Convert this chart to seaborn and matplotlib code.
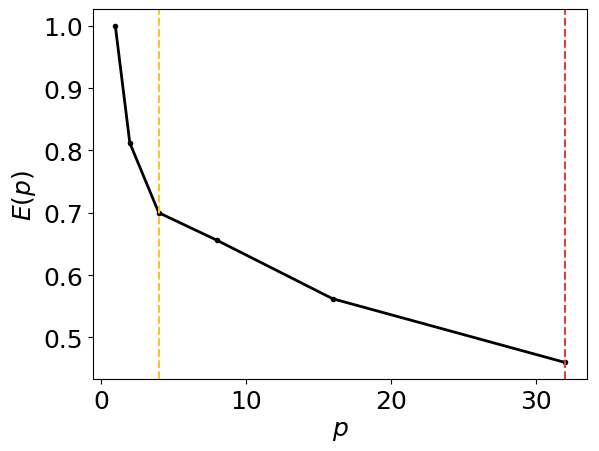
import matplotlib
matplotlib.use('Agg')
import matplotlib.pyplot as plt
import seaborn as sns
import pandas as pd

# === Data ===
p_values = [1, 2, 4, 8, 16, 32]
efficiency = [1.0, 0.812, 0.700, 0.656, 0.562, 0.460]
vlines_p = [4, 32]
vlines_colors = ['#FFC125', '#D9413E']

df = pd.DataFrame({'p': p_values, 'E': efficiency})

plt.rcParams['font.size'] = 18
fig, ax = plt.subplots(figsize=(5.99, 4.52), dpi=100)

sns.lineplot(data=df, x='p', y='E', color='black', linewidth=2,
             marker='o', markersize=4, markeredgewidth=0, ax=ax)
for xv, c in zip(vlines_p, vlines_colors):
    ax.axvline(xv, color=c, linestyle='--', linewidth=1.5)

ax.set_xlabel('$p$')
ax.set_ylabel('$E(p)$')
ax.set_xticks([0, 10, 20, 30])
ax.set_yticks([0.5, 0.6, 0.7, 0.8, 0.9, 1.0])
fig.subplots_adjust(left=0.155, right=0.98, top=0.978, bottom=0.159)
plt.savefig('out.png', dpi=100)
